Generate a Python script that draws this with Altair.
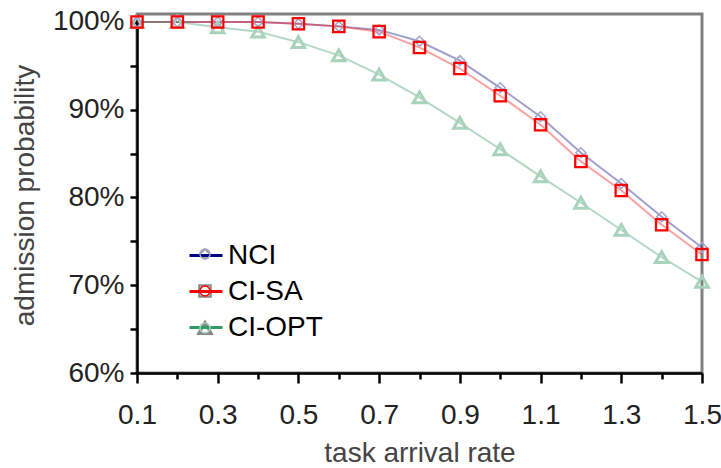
import altair as alt
import pandas as pd

rates = [0.1, 0.2, 0.3, 0.4, 0.5, 0.6, 0.7, 0.8, 0.9, 1.0, 1.1, 1.2, 1.3, 1.4, 1.5]
nci = [100, 100, 100, 100, 99.8, 99.5, 99.1, 97.8, 95.6, 92.5, 89.2, 85.1, 81.6, 77.8, 74.3]
cisa = [100, 100, 100, 100, 99.8, 99.5, 98.9, 97.1, 94.7, 91.6, 88.3, 84.1, 80.8, 76.9, 73.5]
ciopt = [100, 100, 99.4, 98.9, 97.7, 96.2, 94.0, 91.4, 88.5, 85.5, 82.4, 79.4, 76.3, 73.2, 70.4]
series_names = ["NCI", "CI-SA", "CI-OPT"]
draw_order = [2, 3, 1]
y_ticks = [0.60, 0.65, 0.70, 0.75, 0.80, 0.85, 0.90, 0.95, 1.00]

rows = []
for name, z, vals in zip(series_names, draw_order, [nci, cisa, ciopt]):
    for r, v in zip(rates, vals):
        rows.append({"rate": r, "prob": v / 100.0, "series": name, "line_series": name, "z": z})
df = pd.DataFrame(rows)

FONT = "Liberation Sans"

x_enc = alt.X(
    "rate:Q",
    title="task arrival rate",
    scale=alt.Scale(domain=[0.1, 1.5], nice=False, zero=False),
    axis=alt.Axis(
        values=rates,
        labelExpr="round(datum.value*10) % 2 == 1 ? format(datum.value, '.1f') : ''",
        tickSize={"condition": {"test": "round(datum.value*10) % 2 == 1", "value": 10}, "value": 6},
        labelPadding=18,
        labelFontSize=28,
        labelColor="#222222",
        labelFont=FONT,
        labelFlush=False,
        titleFont=FONT,
        titleFontSize=28,
        titleFontWeight="normal",
        titleColor="#444444",
        titleY=88,
        titleBaseline="alphabetic",
        domainColor="black",
        domainWidth=2.5,
        tickColor="black",
        tickWidth=2.5,
        grid=False,
    ),
)

y_enc = alt.Y(
    "prob:Q",
    title="admission probability",
    scale=alt.Scale(domain=[0.6, 1.0091], nice=False, zero=False),
    axis=alt.Axis(
        values=y_ticks,
        labelExpr="round(datum.value*100) % 10 == 0 ? round(datum.value*100) + '%' : ''",
        tickSize=7,
        labelPadding=6,
        labelFontSize=28,
        labelColor="#222222",
        labelFont=FONT,
        labelFlush=False,
        titleFont=FONT,
        titleFontSize=28,
        titleFontWeight="normal",
        titleColor="#444444",
        titleX=-104,
        titleY=181,
        titleAlign="center",
        titleBaseline="alphabetic",
        titleAngle=270,
        domainColor="black",
        domainWidth=2.5,
        tickColor="black",
        tickWidth=2.5,
        grid=False,
    ),
)

line_legend = alt.Legend(
    orient="none",
    legendX=51,
    legendY=223.5,
    title=None,
    symbolType="stroke",
    symbolSize=1089,
    symbolStrokeWidth=3,
    symbolOpacity=1,
    labelFontSize=28,
    labelFont=FONT,
    labelColor="black",
    labelOffset=4,
    rowPadding=4,
    padding=0,
)

marker_legend = alt.Legend(
    orient="none",
    legendX=54,
    legendY=226,
    title=None,
    labelFontSize=28,
    labelFont=FONT,
    labelExpr="''",
    rowPadding=9,
    padding=0,
)

lines = alt.Chart(df).mark_line(strokeWidth=2, opacity=0.38).encode(
    x=x_enc,
    y=y_enc,
    color=alt.Color(
        "line_series:N",
        scale=alt.Scale(domain=series_names, range=["#000080", "#ff0000", "#339966"]),
        legend=line_legend,
    ),
)

points = alt.Chart(df).mark_point(filled=False, opacity=1).encode(
    x=x_enc,
    y=y_enc,
    stroke=alt.Stroke(
        "series:N",
        scale=alt.Scale(domain=series_names, range=["#a4a4cc", "#ff0000", "#a8d2ba"]),
        legend=marker_legend,
    ),
    shape=alt.Shape(
        "series:N",
        scale=alt.Scale(domain=series_names, range=["diamond", "square", "triangle-up"]),
        legend=marker_legend,
    ),
    size=alt.Size(
        "series:N",
        scale=alt.Scale(domain=series_names, range=[100, 156, 170]),
        legend=marker_legend,
    ),
    strokeWidth=alt.StrokeWidth(
        "series:N",
        scale=alt.Scale(domain=series_names, range=[1.5, 3, 1.5]),
        legend=marker_legend,
    ),
    order=alt.Order("z:Q"),
)

chart = (
    alt.layer(lines, points)
    .resolve_legend(color="independent", stroke="independent")
    .properties(
        width=565,
        height=359,
        autosize=alt.AutoSizeParams(type="none"),
        padding={"left": 137, "top": 14, "right": 19, "bottom": 95},
        background="white",
    )
    .configure_view(stroke="#808080", strokeWidth=3)
)

chart.save("out.html", embed_options={"renderer": "svg", "actions": False})
